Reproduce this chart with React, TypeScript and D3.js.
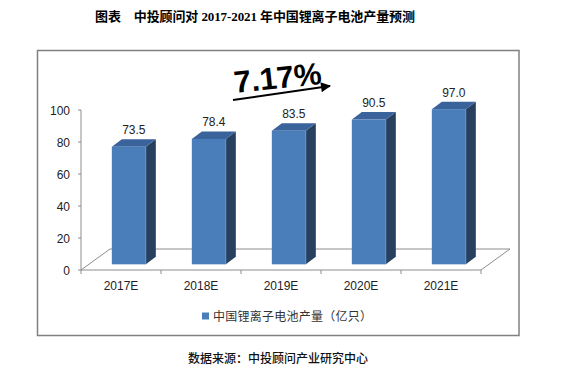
import React from "react";
import * as d3 from "d3";

const categories = ["2017E", "2018E", "2019E", "2020E", "2021E"];
const values = [73.5, 78.4, 83.5, 90.5, 97.0];
const valueLabels = ["73.5", "78.4", "83.5", "90.5", "97.0"];
const yTicks = [0, 20, 40, 60, 80, 100];
const seriesName = "中国锂离子电池产量（亿只）";
const title = "图表\u3000中投顾问对 2017-2021 年中国锂离子电池产量预测";
const source = "数据来源：中投顾问产业研究中心";
const growth = "7.17%";

const W = 569;
const H = 376;

export default function App() {
  const x = d3.scaleBand<string>().domain(categories).range([81, 481]).padding(0);
  const y = d3.scaleLinear().domain([0, 100]).range([270, 110]);
  const floorDx = 29;
  const floorDy = -21;
  const f0 = 0.27;
  const offX = floorDx * f0;
  const offY = floorDy * f0;
  const barW = 34;
  const depthX = 10;
  const depthY = -7.5;
  const axisColor = "#8c8c8c";
  const font = "'Liberation Sans', Arial, sans-serif";
  const cjk = "'Noto Sans CJK SC', sans-serif";

  const y0 = y(0);
  const x0 = 81;
  const x1 = 481;

  return (
    <svg width={W} height={H} style={{ position: "absolute", left: 0, top: 0, background: "#fff" }}>
      <defs>
        <marker id="arr" viewBox="0 0 10 10" refX="9" refY="5" markerWidth="6" markerHeight="5" orient="auto" markerUnits="strokeWidth">
          <path d="M0,0 L10,5 L0,10 z" fill="#000" />
        </marker>
      </defs>
      <text x={95} y={21} fontFamily={`'Liberation Serif', ${cjk}`} fontWeight="bold" fontSize={13} fill="#000" textLength={320} lengthAdjust="spacing" style={{ whiteSpace: "pre" }}>
        {title}
      </text>
      <rect x={37.5} y={50.5} width={481.5} height={285} fill="none" stroke="#808080" strokeWidth={1.5} />

      {/* floor */}
      <path
        d={`M${x0},${y0} L${x0 + floorDx},${y0 + floorDy} L${x1 + floorDx},${y0 + floorDy} L${x1},${y0} Z`}
        fill="none"
        stroke={axisColor}
        strokeWidth={1}
      />
      {/* y axis */}
      <line x1={x0} y1={y(100)} x2={x0} y2={y0} stroke={axisColor} />
      {yTicks.map((t) => (
        <g key={t}>
          <line x1={x0 - 3} x2={x0} y1={y(t)} y2={y(t)} stroke={axisColor} />
          <text x={70} y={y(t) + 4.5} textAnchor="end" fontFamily={font} fontSize={12} fill="#222">
            {t}
          </text>
        </g>
      ))}
      {/* x ticks */}
      {categories.concat(["_end"]).map((c, i) => {
        const xx = i < categories.length ? (x(c) as number) : x1;
        return <line key={c} x1={xx} x2={xx} y1={y0} y2={y0 + 4} stroke={axisColor} />;
      })}
      {categories.map((c) => (
        <text key={c} x={(x(c) as number) + x.bandwidth() / 2} y={290} textAnchor="middle" fontFamily={font} fontSize={12} fill="#222">
          {c}
        </text>
      ))}

      {/* bars */}
      {categories.map((c, i) => {
        const cx = (x(c) as number) + x.bandwidth() / 2 + offX;
        const left = cx - barW / 2;
        const right = cx + barW / 2;
        const bottom = y0 + offY;
        const top = y(values[i]) + offY;
        return (
          <g key={c}>
            <path
              d={`M${right},${bottom} L${right + depthX},${bottom + depthY} L${right + depthX},${top + depthY} L${right},${top} Z`}
              fill="#27405f"
            />
            <path
              d={`M${left},${top} L${left + depthX},${top + depthY} L${right + depthX},${top + depthY} L${right},${top} Z`}
              fill="#3a629b"
            />
            <rect x={left} y={top} width={barW} height={bottom - top} fill="#4a7ebb" />
            <line x1={right} x2={right} y1={top} y2={bottom} stroke="#6f95c8" strokeWidth={0.6} />
            <text x={cx + depthX / 2} y={top + depthY - 5} textAnchor="middle" fontFamily={font} fontSize={12} fill="#222">
              {valueLabels[i]}
            </text>
          </g>
        );
      })}

      {/* growth annotation */}
      <text x={235} y={93} transform="rotate(-6 235 93)" fontFamily={font} fontWeight="bold" fontSize={31} fill="#000">
        {growth}
      </text>
      <line x1={233} y1={100} x2={330} y2={86} stroke="#000" strokeWidth={2} markerEnd="url(#arr)" />

      {/* legend */}
      <rect x={202} y={312.5} width={7} height={7} fill="#4a7ebb" />
      <text x={213} y={320.5} fontFamily={cjk} fontSize={12} fill="#333" textLength={159} lengthAdjust="spacing">
        {seriesName}
      </text>

      <text x={188} y={363} fontFamily={cjk} fontSize={12} fill="#111" fontWeight={500} textLength={180} lengthAdjust="spacing">
        {source}
      </text>
    </svg>
  );
}
